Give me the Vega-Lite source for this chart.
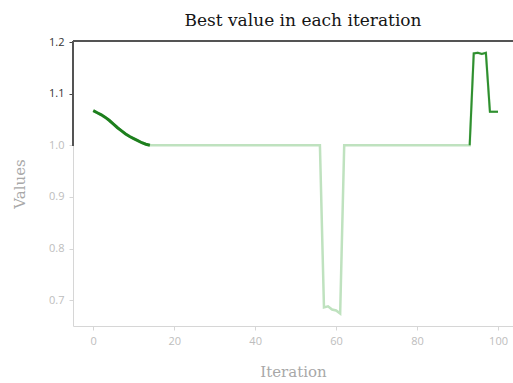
{
  "$schema": "https://vega.github.io/schema/vega-lite/v6.json",
  "autosize": {"type": "none"},
  "padding": {"left": 73, "top": 41, "right": 0, "bottom": 57},
  "width": 440,
  "height": 285,
  "background": "white",
  "config": {"view": {"stroke": null}},
  "title": {
    "text": "Best value in each iteration",
    "font": "DejaVu Serif",
    "fontSize": 17,
    "fontWeight": "normal",
    "color": "#151515",
    "offset": 6,
    "dx": 10
  },
  "data": {
    "values": [
      {"iteration": 0, "value": 1.067}, {"iteration": 1, "value": 1.063}, {"iteration": 2, "value": 1.059},
      {"iteration": 3, "value": 1.054}, {"iteration": 4, "value": 1.048}, {"iteration": 5, "value": 1.041},
      {"iteration": 6, "value": 1.034}, {"iteration": 7, "value": 1.028}, {"iteration": 8, "value": 1.022},
      {"iteration": 9, "value": 1.017}, {"iteration": 10, "value": 1.013}, {"iteration": 11, "value": 1.009},
      {"iteration": 12, "value": 1.005}, {"iteration": 13, "value": 1.002}, {"iteration": 14, "value": 1.0},
      {"iteration": 15, "value": 1.0}, {"iteration": 16, "value": 1.0}, {"iteration": 17, "value": 1.0},
      {"iteration": 18, "value": 1.0}, {"iteration": 19, "value": 1.0}, {"iteration": 20, "value": 1.0},
      {"iteration": 21, "value": 1.0}, {"iteration": 22, "value": 1.0}, {"iteration": 23, "value": 1.0},
      {"iteration": 24, "value": 1.0}, {"iteration": 25, "value": 1.0}, {"iteration": 26, "value": 1.0},
      {"iteration": 27, "value": 1.0}, {"iteration": 28, "value": 1.0}, {"iteration": 29, "value": 1.0},
      {"iteration": 30, "value": 1.0}, {"iteration": 31, "value": 1.0}, {"iteration": 32, "value": 1.0},
      {"iteration": 33, "value": 1.0}, {"iteration": 34, "value": 1.0}, {"iteration": 35, "value": 1.0},
      {"iteration": 36, "value": 1.0}, {"iteration": 37, "value": 1.0}, {"iteration": 38, "value": 1.0},
      {"iteration": 39, "value": 1.0}, {"iteration": 40, "value": 1.0}, {"iteration": 41, "value": 1.0},
      {"iteration": 42, "value": 1.0}, {"iteration": 43, "value": 1.0}, {"iteration": 44, "value": 1.0},
      {"iteration": 45, "value": 1.0}, {"iteration": 46, "value": 1.0}, {"iteration": 47, "value": 1.0},
      {"iteration": 48, "value": 1.0}, {"iteration": 49, "value": 1.0}, {"iteration": 50, "value": 1.0},
      {"iteration": 51, "value": 1.0}, {"iteration": 52, "value": 1.0}, {"iteration": 53, "value": 1.0},
      {"iteration": 54, "value": 1.0}, {"iteration": 55, "value": 1.0}, {"iteration": 56, "value": 1.0},
      {"iteration": 57, "value": 0.686}, {"iteration": 58, "value": 0.688}, {"iteration": 59, "value": 0.682},
      {"iteration": 60, "value": 0.68}, {"iteration": 61, "value": 0.674}, {"iteration": 62, "value": 1.0},
      {"iteration": 63, "value": 1.0}, {"iteration": 64, "value": 1.0}, {"iteration": 65, "value": 1.0},
      {"iteration": 66, "value": 1.0}, {"iteration": 67, "value": 1.0}, {"iteration": 68, "value": 1.0},
      {"iteration": 69, "value": 1.0}, {"iteration": 70, "value": 1.0}, {"iteration": 71, "value": 1.0},
      {"iteration": 72, "value": 1.0}, {"iteration": 73, "value": 1.0}, {"iteration": 74, "value": 1.0},
      {"iteration": 75, "value": 1.0}, {"iteration": 76, "value": 1.0}, {"iteration": 77, "value": 1.0},
      {"iteration": 78, "value": 1.0}, {"iteration": 79, "value": 1.0}, {"iteration": 80, "value": 1.0},
      {"iteration": 81, "value": 1.0}, {"iteration": 82, "value": 1.0}, {"iteration": 83, "value": 1.0},
      {"iteration": 84, "value": 1.0}, {"iteration": 85, "value": 1.0}, {"iteration": 86, "value": 1.0},
      {"iteration": 87, "value": 1.0}, {"iteration": 88, "value": 1.0}, {"iteration": 89, "value": 1.0},
      {"iteration": 90, "value": 1.0}, {"iteration": 91, "value": 1.0}, {"iteration": 92, "value": 1.0},
      {"iteration": 93, "value": 1.0}, {"iteration": 94, "value": 1.178}, {"iteration": 95, "value": 1.179},
      {"iteration": 96, "value": 1.177}, {"iteration": 97, "value": 1.179}, {"iteration": 98, "value": 1.065},
      {"iteration": 99, "value": 1.065}, {"iteration": 100, "value": 1.065}
    ]
  },
  "encoding": {
    "x": {
      "field": "iteration",
      "type": "quantitative",
      "scale": {"domain": [-5, 103.7], "nice": false, "zero": false},
      "axis": {
        "title": "Iteration",
        "values": [0, 20, 40, 60, 80, 100],
        "grid": false,
        "domainColor": "#d6d6d6",
        "tickColor": "#d6d6d6",
        "tickSize": 4,
        "labelColor": "#bdbdbd",
        "labelFont": "Open Sans",
        "labelFontSize": 11,
        "labelPadding": 5,
        "titleFont": "DejaVu Serif",
        "titleFontSize": 15,
        "titleFontWeight": "normal",
        "titleColor": "#a8a8a8",
        "titlePadding": 18
      }
    },
    "y": {
      "field": "value",
      "type": "quantitative",
      "scale": {"domain": [0.65, 1.202], "nice": false, "zero": false},
      "axis": {
        "title": "Values",
        "values": [0.7, 0.8, 0.9, 1.0, 1.1, 1.2],
        "format": ".1f",
        "grid": false,
        "domainColor": "#d6d6d6",
        "tickColor": {"condition": {"test": "datum.value > 1.05", "value": "#444"}, "value": "#d6d6d6"},
        "tickSize": 4,
        "labelColor": {"condition": {"test": "datum.value > 1.05", "value": "#333"}, "value": "#bdbdbd"},
        "labelFont": "Open Sans",
        "labelFontSize": 11,
        "labelPadding": 5,
        "titleFont": "DejaVu Serif",
        "titleFontSize": 15,
        "titleFontWeight": "normal",
        "titleColor": "#a8a8a8",
        "titlePadding": 21
      }
    }
  },
  "layer": [
    {
      "mark": {"type": "rule", "color": "#555", "strokeWidth": 1.5},
      "encoding": {"x": {"datum": -5}, "y": {"datum": 1.0}, "y2": {"datum": 1.202}}
    },
    {
      "mark": {"type": "rule", "color": "#555", "strokeWidth": 1.5},
      "encoding": {"x": null, "y": {"datum": 1.202}}
    },
    {
      "mark": {"type": "line", "color": "#bfe2bf", "strokeWidth": 2.5}
    },
    {
      "transform": [{"filter": "datum.iteration <= 14"}],
      "mark": {"type": "line", "color": "#1d7f1d", "strokeWidth": 3}
    },
    {
      "transform": [{"filter": "datum.iteration >= 93"}],
      "mark": {"type": "line", "color": "#2f8f2f", "strokeWidth": 2}
    }
  ]
}
